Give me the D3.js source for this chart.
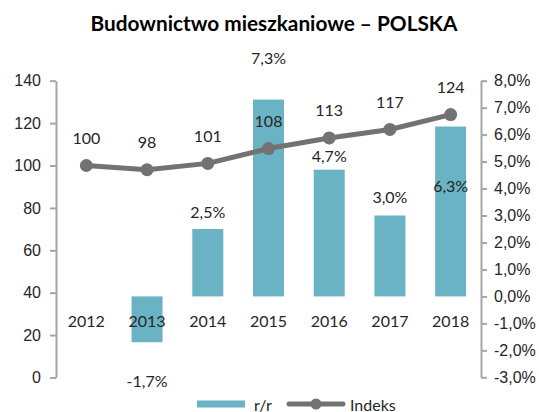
<!DOCTYPE html>
<html>
<head>
<meta charset="utf-8">
<script src="https://cdn.jsdelivr.net/npm/d3@7"></script>
<style>
  body { margin: 0; background: #fff; }
  svg { display: block; font-family: Lato, "Open Sans", sans-serif; }
</style>
</head>
<body>
<svg id="chart" width="539" height="412"></svg>
<script>
// chart data
const years = ['2012', '2013', '2014', '2015', '2016', '2017', '2018']
const rr = [null, -1.7, 2.5, 7.3, 4.7, 3.0, 6.3] // r/r, %
const indeks = [100, 98, 101, 108, 113, 117, 124]
const leftTicks = [0, 20, 40, 60, 80, 100, 120, 140]
const rightTicks = [-3, -2, -1, 0, 1, 2, 3, 4, 5, 6, 7, 8]

// label layout (px offset of label centre from bar end)
const barLabelDy = [0, 38, -18, -42, -14, -19, 59]

const barColor = '#69b3c4'
const lineColor = '#727272'
const axisColor = '#a5a5a5'
const textColor = '#262626'
const fs = 16

const svg = d3.select('#chart')

const x = d3.scaleBand().domain(years).range([56, 481]).paddingInner(0)
const yL = d3.scaleLinear().domain([0, 140]).range([377.5, 80.7])
const yR = d3.scaleLinear().domain([-3, 8]).range([377.3, 80.7])
const fmt = (v) => v.toFixed(1).replace('.', ',') + '%'

// title
svg.append('text')
  .attr('x', 274).attr('y', 31)
  .attr('text-anchor', 'middle')
  .attr('font-size', 20.8).attr('font-weight', 'bold')
  .attr('fill', '#000')
  .text('Budownictwo mieszkaniowe – POLSKA')

// axes
const styleAxis = (g) => {
  g.select('.domain').attr('stroke', axisColor).attr('stroke-width', 2)
  g.selectAll('.tick line').attr('stroke', axisColor).attr('stroke-width', 2)
  g.selectAll('.tick text').attr('fill', textColor).attr('font-size', fs)
}
svg.append('g')
  .attr('transform', 'translate(56,0)')
  .call(d3.axisLeft(yL).tickValues(leftTicks).tickSize(6).tickSizeOuter(0).tickPadding(9))
  .call(styleAxis)
svg.append('g')
  .attr('transform', 'translate(481,0)')
  .call(d3.axisRight(yR).tickValues(rightTicks).tickSize(6).tickSizeOuter(0).tickPadding(7).tickFormat(fmt))
  .call(styleAxis)

// bars (r/r on right axis)
const bw = 31
const barData = years.map((y, i) => ({ year: y, v: rr[i], dy: barLabelDy[i] })).filter(d => d.v !== null)
svg.append('g').selectAll('rect').data(barData).join('rect')
  .attr('x', d => x(d.year) + x.bandwidth() / 2 - bw / 2)
  .attr('width', bw)
  .attr('y', d => yR(Math.max(0, d.v)))
  .attr('height', d => Math.abs(yR(d.v) - yR(0)))
  .attr('fill', barColor)

// category labels
svg.append('g').selectAll('text').data(years).join('text')
  .attr('x', d => x(d) + x.bandwidth() / 2)
  .attr('y', yR(0) + 24)
  .attr('text-anchor', 'middle').attr('dominant-baseline', 'central')
  .attr('font-size', fs).attr('fill', textColor)
  .text(d => d)

// bar labels
svg.append('g').selectAll('text').data(barData).join('text')
  .attr('x', d => x(d.year) + x.bandwidth() / 2)
  .attr('y', d => yR(d.v) + d.dy)
  .attr('text-anchor', 'middle').attr('dominant-baseline', 'central')
  .attr('font-size', fs).attr('fill', textColor)
  .text(d => fmt(d.v))

// index line
const lineData = years.map((y, i) => ({ year: y, v: indeks[i] }))
const line = d3.line()
  .x(d => x(d.year) + x.bandwidth() / 2)
  .y(d => yL(d.v))
svg.append('path')
  .attr('d', line(lineData))
  .attr('fill', 'none').attr('stroke', lineColor)
  .attr('stroke-width', 5).attr('stroke-linejoin', 'round')
svg.append('g').selectAll('circle').data(lineData).join('circle')
  .attr('cx', d => x(d.year) + x.bandwidth() / 2)
  .attr('cy', d => yL(d.v))
  .attr('r', 6.5)
  .attr('fill', lineColor)
svg.append('g').selectAll('text').data(lineData).join('text')
  .attr('x', d => x(d.year) + x.bandwidth() / 2)
  .attr('y', d => yL(d.v) - 28)
  .attr('text-anchor', 'middle').attr('dominant-baseline', 'central')
  .attr('font-size', fs).attr('fill', textColor)
  .text(d => d.v)

// legend
const legend = svg.append('g')
legend.append('rect')
  .attr('x', 197).attr('y', 400.5).attr('width', 48).attr('height', 7)
  .attr('fill', barColor)
legend.append('text')
  .attr('x', 254).attr('y', 404).attr('dominant-baseline', 'central')
  .attr('font-size', fs).attr('fill', textColor).text('r/r')
legend.append('line')
  .attr('x1', 289).attr('x2', 343).attr('y1', 404).attr('y2', 404)
  .attr('stroke', lineColor).attr('stroke-width', 5).attr('stroke-linecap', 'round')
legend.append('circle')
  .attr('cx', 316).attr('cy', 404).attr('r', 5.5).attr('fill', lineColor)
legend.append('text')
  .attr('x', 350).attr('y', 404).attr('dominant-baseline', 'central')
  .attr('font-size', fs).attr('fill', textColor).text('Indeks')
</script>
</body>
</html>
